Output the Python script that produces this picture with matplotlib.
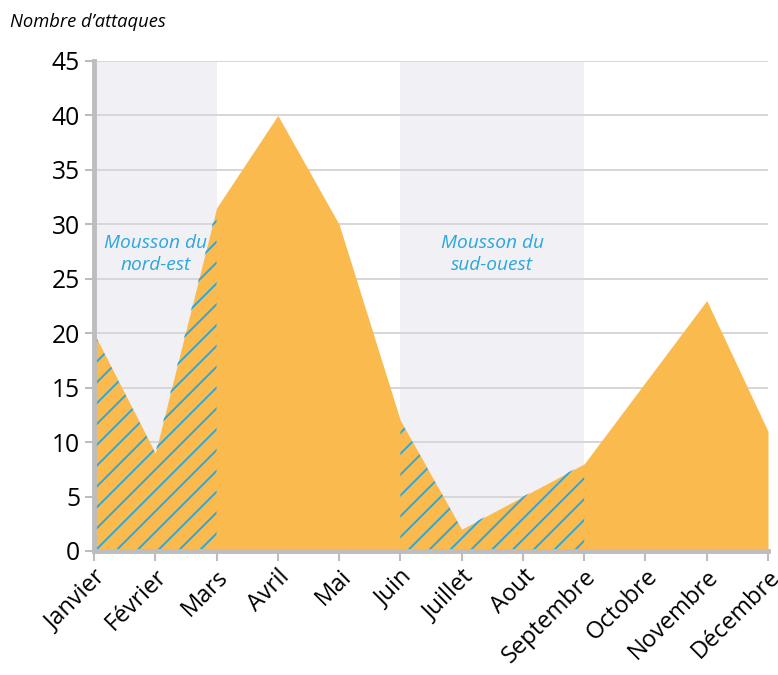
import matplotlib
matplotlib.use("Agg")
import matplotlib.pyplot as plt
import numpy as np

# ---------------------------------------------------------------------------
# Data
# ---------------------------------------------------------------------------
MONTHS = ["Janvier", "Février", "Mars", "Avril", "Mai", "Juin", "Juillet",
          "Aout", "Septembre", "Octobre", "Novembre", "Décembre"]
ATTACKS = [20, 9, 31.5, 40, 30, 12, 2, 5, 8, 15.5, 23, 11]

# monsoon periods as (first month index, last month index)
MONSOONS = [(0, 2), (5, 8)]
MONSOON_LABELS = ["Mousson du\nnord-est", "Mousson du\nsud-ouest"]

Y_TICKS = list(range(0, 50, 5))

ORANGE = "#FBBA4E"
SHADE = "#F1F0F5"
BLUE = "#2AA7DC"
GRID = "#D6D6D9"
AXIS = "#BDBDC0"

plt.rcParams["font.family"] = ["Open Sans", "DejaVu Sans"]
plt.rcParams["hatch.linewidth"] = 1.1
plt.rcParams["hatch.color"] = BLUE

DPI = 125
fig = plt.figure(figsize=(778 / DPI, 675 / DPI), dpi=DPI)
ax = fig.add_axes([94 / 778, 1 - 551 / 675, (768 - 94) / 778, (551 - 61) / 675])

x = np.arange(len(MONTHS))
y = np.array(ATTACKS)

for a, b in MONSOONS:
    ax.axvspan(a, b, color=SHADE, lw=0, zorder=0)

for t in Y_TICKS[1:]:
    ax.axhline(t, color=GRID, lw=1.1, zorder=1)

ax.fill_between(x, y, 0, color=ORANGE, lw=0, zorder=2)

# hatching only under the curve during the monsoons
for a, b in MONSOONS:
    ax.fill_between(x[a:b + 1], y[a:b + 1], 0, facecolor="none",
                    edgecolor=BLUE, hatch="//", lw=0, zorder=3)

for (a, b), lab in zip(MONSOONS, MONSOON_LABELS):
    ax.text((a + b) / 2, 27.3, lab, ha="center", va="center", color=BLUE,
            style="italic", fontsize=11, linespacing=1.3, zorder=4)

ax.set_xlim(0, 11)
ax.set_ylim(0, 45)
ax.set_xticks(x)
ax.set_xticklabels(MONTHS, rotation=45, ha="right", rotation_mode="anchor",
                   fontsize=13.6)
ax.set_yticks(Y_TICKS)
ax.set_yticklabels([str(v) for v in Y_TICKS], fontsize=14.2)
ax.tick_params(axis="x", length=6, width=1.2, color=AXIS, pad=2)
ax.tick_params(axis="y", length=5, width=1.2, color=AXIS, pad=3)

for s in ["top", "right"]:
    ax.spines[s].set_visible(False)
for s in ["left", "bottom"]:
    ax.spines[s].set_color(AXIS)
    ax.spines[s].set_linewidth(2.8)
    ax.spines[s].set_zorder(5)

fig.text(10 / 778, 1 - 22 / 675, "Nombre d’attaques", ha="left", va="center",
         style="italic", fontsize=10.6)

fig.savefig("out.png", dpi=DPI)
